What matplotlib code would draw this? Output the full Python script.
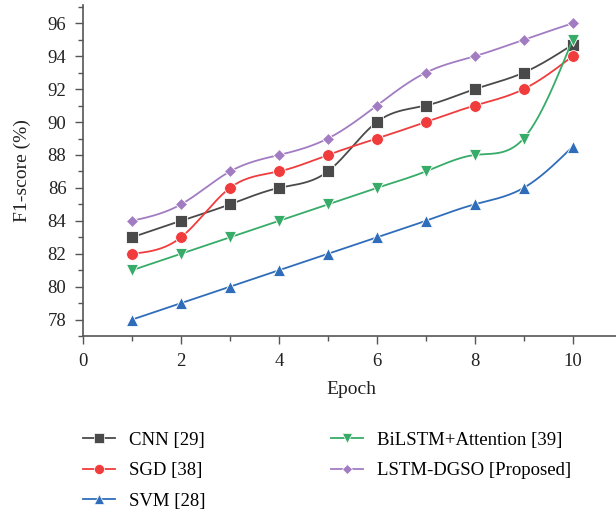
import numpy as np
import matplotlib
matplotlib.use("Agg")
from matplotlib import pyplot as plt
from matplotlib.ticker import MultipleLocator

plt.rcParams['font.family'] = ['Liberation Serif', 'DejaVu Serif']

epochs = [1, 2, 3, 4, 5, 6, 7, 8, 9, 10]
cnn = [83, 84, 85, 86, 87, 90, 91, 92, 93, 94.7]
sgd = [82, 83, 86, 87, 88, 89, 90, 91, 92, 94]
svm = [78, 79, 80, 81, 82, 83, 84, 85, 86, 88.5]
bilstm = [81, 82, 83, 84, 85, 86, 87, 88, 89, 95]
lstm_dgso = [84, 85, 87, 88, 89, 91, 93, 94, 95, 96]

labels = ['CNN [29]', 'SGD [38]', 'SVM [28]',
          'BiLSTM+Attention [39]', 'LSTM-DGSO [Proposed]']
colors = ['#4a4a4a', '#f03c3c', '#2f6dba', '#37ab68', '#a27cc2']
markers = ['s', 'o', '^', 'v', 'D']
msizes = [8.5, 8.5, 8.5, 8.5, 6.5]


def spline(x, y, n=300):
    # natural cubic spline, only used to draw the smooth line
    x = np.asarray(x, float)
    y = np.asarray(y, float)
    k = len(x)
    h = np.diff(x)
    A = np.zeros((k, k))
    b = np.zeros(k)
    A[0, 0] = A[-1, -1] = 1
    for i in range(1, k - 1):
        A[i, i - 1] = h[i - 1]
        A[i, i] = 2 * (h[i - 1] + h[i])
        A[i, i + 1] = h[i]
        b[i] = 3 * ((y[i + 1] - y[i]) / h[i] - (y[i] - y[i - 1]) / h[i - 1])
    c = np.linalg.solve(A, b)
    xs = np.linspace(x[0], x[-1], n)
    idx = np.clip(np.searchsorted(x, xs) - 1, 0, k - 2)
    dx = xs - x[idx]
    bb = (y[idx + 1] - y[idx]) / h[idx] - h[idx] * (2 * c[idx] + c[idx + 1]) / 3
    dd = (c[idx + 1] - c[idx]) / (3 * h[idx])
    ys = y[idx] + bb * dx + c[idx] * dx ** 2 + dd * dx ** 3
    return xs, ys


fig = plt.figure(figsize=(6.16, 5.17), dpi=100)
ax = fig.add_axes([0.135, 0.35, 0.87, 0.64])

series = [cnn, sgd, svm, bilstm, lstm_dgso]
for vals, lab, col, mk, ms in zip(series, labels, colors, markers, msizes):
    xs, ys = spline(epochs, vals)
    ax.plot(xs, ys, color=col, lw=1.3)
    ax.plot(epochs, vals, linestyle='none', marker=mk, color=col, ms=ms,
            markeredgecolor='white', markeredgewidth=0.6)
    ax.plot([], [], color=col, lw=1.3, marker=mk, ms=ms * 0.85,
            markeredgecolor='white', markeredgewidth=0.5, label=lab)

ax.set_xlim(0, 10.95)
ax.set_ylim(77, 97.1)
ax.xaxis.set_major_locator(MultipleLocator(2))
ax.xaxis.set_minor_locator(MultipleLocator(1))
ax.yaxis.set_major_locator(MultipleLocator(2))
ax.yaxis.set_minor_locator(MultipleLocator(1))
ax.spines['top'].set_visible(False)
ax.spines['right'].set_visible(False)
for s in ['left', 'bottom']:
    ax.spines[s].set_color('#555555')
    ax.spines[s].set_linewidth(1.2)
ax.tick_params(which='major', length=6, width=1, color='#555555', pad=6,
               labelsize=13.5, labelcolor='#222222')
ax.tick_params(which='minor', length=3.5, width=1, color='#555555')

ax.set_xlabel('Epoch', fontsize=14, color='#222222', labelpad=8)
ax.set_ylabel('F1-score (%)', fontsize=14, color='#222222', labelpad=12)

fig.legend(loc='upper left', bbox_to_anchor=(0.107, 0.198), ncol=2,
           frameon=False, fontsize=13.5, handlelength=1.7,
           columnspacing=6.7, labelspacing=0.72, handletextpad=0.75)

fig.savefig('out.png', dpi=100)
